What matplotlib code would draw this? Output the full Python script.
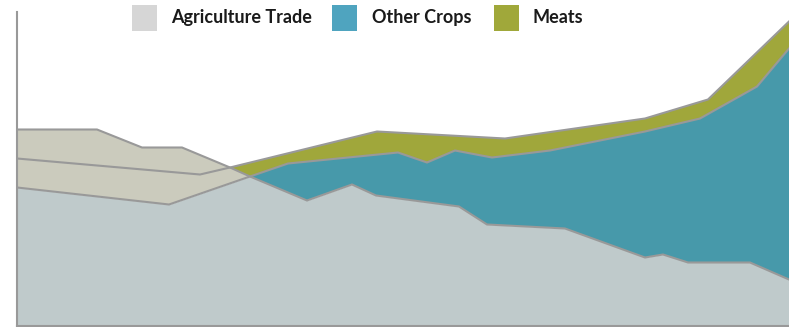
import numpy as np
import matplotlib.pyplot as plt
from matplotlib.patches import Rectangle

# series (x = position along the time axis, y = stacked value)
meats_x = np.array([0, 80, 125, 165, 213, 360, 488, 628, 691, 772])
meats_top = np.array([196, 196, 178, 178, 158, 194, 187, 207, 226, 304])

crops_x = np.array([0, 183, 213, 233, 271, 381, 410, 438, 475, 533, 628, 683, 740, 772])
crops_top = np.array([167, 151, 158, 149, 162, 173, 163, 175, 168, 175, 194, 207, 239, 277])

trade_x = np.array([0, 152, 233, 290, 335, 359, 442, 470, 548, 628, 646, 671, 733, 772])
trade_top = np.array([138, 121, 149, 125, 141, 130, 119, 101, 97, 68, 71, 63, 63, 46])

labels = ["Agriculture Trade", "Other Crops", "Meats"]
legend_colors = ["#d6d6d6", "#4fa4bf", "#a0a83a"]

c_base = "#bfcacb"
c_beige = "#cbcbbd"
c_teal = "#4799aa"
c_olive = "#a0a73b"
c_line = "#999999"


def band(ax, xa, ya, xb, yb, color):
    px = np.concatenate([xa, xb[::-1]])
    py = np.concatenate([ya, yb[::-1]])
    ax.fill(px, py, color=color, lw=0)


fig = plt.figure(figsize=(7.89, 3.27), dpi=100)
ax = fig.add_axes([17 / 789, 1.5 / 327, 772 / 789, 313.5 / 327])

# bottom layer
ax.fill_between(trade_x, 0, trade_top, color=c_base, lw=0)

# crops band: beige before the crossing, teal after
k_c = 3   # crossing index in crops_x (233)
k_t = 2   # crossing index in trade_x (233)
band(ax, crops_x[:k_c + 1], crops_top[:k_c + 1], trade_x[:k_t + 1], trade_top[:k_t + 1], c_beige)
band(ax, crops_x[k_c:], crops_top[k_c:], trade_x[k_t:], trade_top[k_t:], c_teal)

# meats band
k_m = 4   # crossing index in meats_x (213)
k_c2 = 2  # crossing index in crops_x (213)
band(ax, meats_x[:k_m + 1], meats_top[:k_m + 1], crops_x[:k_c2 + 1], crops_top[:k_c2 + 1], c_beige)
band(ax, meats_x[k_m:], meats_top[k_m:], crops_x[k_c2:], crops_top[k_c2:], c_olive)

for xs, ys in [(trade_x, trade_top), (crops_x, crops_top), (meats_x, meats_top)]:
    ax.plot(xs, ys, color=c_line, lw=1.5, solid_joinstyle="miter")

ax.set_xlim(0, 772)
ax.set_ylim(0, 313.5)
ax.set_xticks([])
ax.set_yticks([])
for s in ["top", "right"]:
    ax.spines[s].set_visible(False)
for s in ["left", "bottom"]:
    ax.spines[s].set_color(c_line)
    ax.spines[s].set_linewidth(1.5)

# legend along the top
sq_x = [132, 332, 494]
tx_x = [171, 372, 533]
W, H = 789, 327
for lab, col, sx, tx in zip(labels, legend_colors, sq_x, tx_x):
    fig.patches.append(Rectangle((sx / W, 1 - 30.5 / H), 25 / W, 25 / H,
                                 transform=fig.transFigure, color=col, lw=0))
    fig.text(tx / W, 1 - 17.5 / H, lab, fontsize=13, fontweight="bold",
             family="Lato", color="#1a1a1a", va="center", ha="left")

fig.savefig("out.png", dpi=100)
